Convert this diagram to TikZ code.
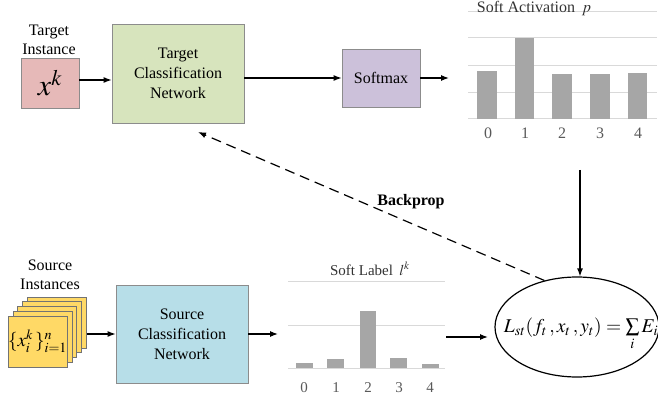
\documentclass[tikz,border=0pt]{standalone}
\usepackage{mathptmx}
\usepackage{fontspec}
\setmainfont{Liberation Serif}
\usetikzlibrary{arrows.meta,shapes.geometric}
\definecolor{pinkf}{HTML}{E6B9B8}
\definecolor{greenf}{HTML}{D7E4BD}
\definecolor{lavf}{HTML}{CCC1DA}
\definecolor{bluef}{HTML}{B7DEE8}
\definecolor{yelf}{HTML}{FFD966}
\definecolor{boxgray}{HTML}{8C8C8C}
\definecolor{barg}{HTML}{A6A6A6}
\definecolor{gridg}{HTML}{D9D9D9}
\definecolor{titleg}{HTML}{333333}
\definecolor{axisg}{HTML}{595959}
\tikzset{
  box/.style={draw=boxgray, line width=0.8pt, inner sep=0pt, align=center, font=\fontsize{16}{20}\selectfont},
  card/.style={draw=black!55, line width=0.6pt, fill=yelf, inner sep=0pt, minimum width=59, minimum height=51},
  arr/.style={-{Latex[length=8pt,width=6pt]}, line width=1.2pt},
  dasharr/.style={-{Latex[length=8pt,width=6pt]}, line width=1.2pt, dash pattern=on 10pt off 6pt},
  lbl/.style={font=\fontsize{16}{19}\selectfont, align=center, inner sep=0pt},
  gridl/.style={draw=gridg, line width=1pt},
  barf/.style={fill=barg},
  axl/.style={font=\fontsize{16}{16}\selectfont, text=axisg, anchor=base, inner sep=0pt},
  ttl/.style={text=titleg, anchor=base, inner sep=0pt}
}
\begin{document}
\begin{tikzpicture}[x=1pt,y=-1pt]
\useasboundingbox (0,0) rectangle (658,403);

% ---- Target branch
\node[lbl] (tilbl) at (49,40) {Target\\Instance};
\node[box, fill=pinkf, minimum width=58, minimum height=50] (xk) at (50,83) {\fontsize{30}{30}\selectfont$x^{k}$};
\node[box, fill=greenf, minimum width=132, minimum height=99] (tcn) at (178,73.5) {Target\\Classification\\Network};
\node[box, fill=lavf, minimum width=78, minimum height=58] (sm) at (381,78) {Softmax};
\coordinate (actin) at (449,78);
\coordinate (xkout) at ([yshift=3pt]xk.east);

\draw[arr] (xkout) -- (tcn.west |- xkout);
\draw[arr] (tcn.east |- sm.west) -- (sm.west);
\draw[arr] (sm.east) -- (actin);

% ---- Soft Activation chart
\foreach \yy in {12,38,66,93,119} \draw[gridl] (468,\yy) -- (657,\yy);
\node[ttl, font=\fontsize{16}{16}\selectfont] (acttitle) at (534,13) {Soft Activation \,$p$};
\fill[barf] (477,71) rectangle (497,119);
\fill[barf] (515,38) rectangle (534,119);
\fill[barf] (552,74) rectangle (572,119);
\fill[barf] (590,74) rectangle (610,119);
\fill[barf] (628,73) rectangle (647,119);
\node[axl] (a0) at (488,139) {0};
\node[axl] (a1) at (525,139) {1};
\node[axl] (a2) at (562,139) {2};
\node[axl] (a3) at (600,139) {3};
\node[axl] (a4) at (638,139) {4};
\coordinate (actout) at (580,170);

% ---- Source branch
\node[lbl] (silbl) at (50,275) {Source\\Instances};
\foreach \k in {4,3,2,1} \node[card] (card\k) at ({37.5+4.8*\k},{341.5-4.8*\k}) {};
\node[card] (card0) at (37.5,341.5) {\fontsize{19}{19}\selectfont$\{x_i^{k}\,\}_{i=1}^{n}$};
\node[box, fill=bluef, minimum width=132, minimum height=98] (scn) at (182,334) {Source\\Classification\\Network};
\coordinate (slin) at (278,334);
\draw[arr] (card4.east |- scn.west) -- (scn.west);
\draw[arr] (scn.east) -- (slin);

% ---- Soft Label chart
\foreach \yy in {281,325,368} \draw[gridl] (288,\yy) -- (445,\yy);
\node[ttl, font=\fontsize{15}{15}\selectfont] (sltitle) at (370,275) {Soft Label \,$l^k$};
\fill[barf] (296,363) rectangle (313,368);
\fill[barf] (327,359) rectangle (344,368);
\fill[barf] (360,311) rectangle (376,368);
\fill[barf] (390,358) rectangle (407,368);
\fill[barf] (422,364) rectangle (439,368);
\node[axl, font=\fontsize{15}{15}\selectfont] (b0) at (304,392) {0};
\node[axl, font=\fontsize{15}{15}\selectfont] (b1) at (336,392) {1};
\node[axl, font=\fontsize{15}{15}\selectfont] (b2) at (368,392) {2};
\node[axl, font=\fontsize{15}{15}\selectfont] (b3) at (399,392) {3};
\node[axl, font=\fontsize{15}{15}\selectfont] (b4) at (430,392) {4};
\coordinate (slout) at (446,337);
\coordinate (lossin) at (488,337);

% ---- Loss
\node[draw, line width=1.2pt, ellipse, minimum width=164, minimum height=100, inner sep=0pt] (loss) at (577,327) {};
\node[inner sep=0pt] (lossf) at (581,334) {\fontsize{19.5}{21}\selectfont$L_{st}(f_t\,,x_t\,,y_t)=\sum\limits_i E_i$};
\draw[arr] (slout) -- (lossin);
\draw[arr] (actout) -- (actout |- loss.north);

% ---- Backprop
\coordinate (bpend) at (198,132);
\draw[dasharr] (loss.125) -- (bpend);
\node[font=\fontsize{16}{16}\selectfont\bfseries, inner sep=0pt] (bp) at (411,202) {Backprop};
\end{tikzpicture}
\end{document}
